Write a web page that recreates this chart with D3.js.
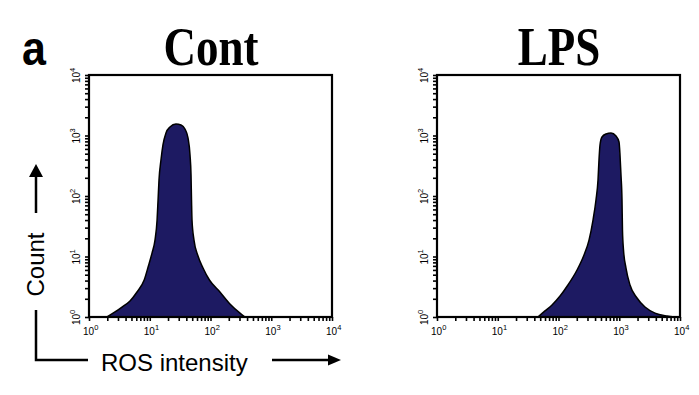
<!DOCTYPE html>
<html>
<head>
  <meta charset="UTF-8">
  <style>
    body { margin: 0; background: white; }
    svg { display: block; }
    .tick-label { font-family: "Liberation Sans", Arial, sans-serif; font-size: 10px; fill: black; }
    .title { font-family: "Liberation Serif", "Times New Roman", serif; font-weight: bold; font-size: 45px; }
  </style>
</head>
<body>
<svg></svg>
<script src="https://cdn.jsdelivr.net/npm/d3@7"></script>
<script>
let width = 699, height = 395;

// Histogram data (ROS intensity vs event count)
let contIntensity = [1.98, 2.68, 3.49, 4.73, 6.17, 8.1, 9.5, 10.9, 12.2, 13.2, 13.7, 14.2, 15.3, 16.5, 18.5, 21.5, 27.0,
                     32.7, 38.0, 42.6, 46.0, 47.8, 48.7, 49.6, 53.5, 62.3, 75.3, 96, 143, 209, 306, 370];
let contCount     = [1.0, 1.21, 1.46, 1.84, 2.59, 4.09, 6.97, 11.4, 18.7, 40.1, 85.9, 184, 394, 697, 1100, 1380, 1550,
                     1490, 1280, 910, 476, 222, 85.9, 40.1, 18.7, 10.2, 6.45, 4.09, 2.59, 1.64, 1.16, 1.0];

let lpsIntensity = [46.0, 59.9, 78.2, 106, 143, 202, 263, 318, 370, 414, 447, 464, 482, 520, 605, 732, 885,
                    991, 1029, 1068, 1110, 1130, 1175, 1291, 1503, 1960, 2653, 3875, 6110, 8270];
let lpsCount     = [1.0, 1.26, 1.58, 2.22, 3.38, 5.98, 10.6, 18.7, 40.1, 85.9, 184, 394, 697, 944, 1059, 1100, 981,
                    782, 476, 222, 85.9, 27.4, 12.8, 6.45, 3.38, 2.06, 1.46, 1.16, 1.04, 1.0];

let panelTitles = ["Cont", "LPS"];
let decades = [1, 10, 100, 1000, 10000];
let exponents = ["0", "1", "2", "3", "4"];

let svg = d3.select("svg")
    .attr("width", width)
    .attr("height", height);

// all log ticks (minor + major)
let allTicks = [];
for (let d = 0; d < 4; d++) {
  for (let m = 1; m < 10; m++) allTicks.push(m * Math.pow(10, d));
}
allTicks.push(10000);

let y = d3.scaleLog().domain([1, 10000]).range([317, 75]);

function drawPanel(x0, title, xs, ys) {
  let x = d3.scaleLog().domain([1, 10000]).range([x0, x0 + 243]);
  let g = svg.append("g");

  let pts = xs.map((v, i) => [v, ys[i]]);
  let area = d3.area()
      .x(d => x(d[0]))
      .y0(y(1))
      .y1(d => y(d[1]))
      .curve(d3.curveMonotoneX);
  let line = d3.line()
      .x(d => x(d[0]))
      .y(d => y(d[1]))
      .curve(d3.curveMonotoneX);

  g.append("path")
      .attr("d", area(pts))
      .attr("fill", "#1d1a62");
  g.append("path")
      .attr("d", line(pts))
      .attr("fill", "none")
      .attr("stroke", "black")
      .attr("stroke-width", 1.5);

  // ticks
  let yAxis = d3.axisLeft(y).tickValues(allTicks).tickFormat("").tickSize(4).tickSizeOuter(0);
  let xAxis = d3.axisBottom(x).tickValues(allTicks).tickFormat("").tickSize(4).tickSizeOuter(0);
  let ya = g.append("g").attr("transform", `translate(${x0},0)`).call(yAxis);
  let xa = g.append("g").attr("transform", `translate(0,${y(1)})`).call(xAxis);
  [ya, xa].forEach(a => {
    a.select(".domain").remove();
    a.selectAll("line").attr("stroke", "black").attr("stroke-width", 1.6);
  });

  // frame
  g.append("rect")
      .attr("x", x0)
      .attr("y", y(10000))
      .attr("width", 243)
      .attr("height", y(1) - y(10000))
      .attr("fill", "none")
      .attr("stroke", "black")
      .attr("stroke-width", 2.2);

  // x tick labels
  decades.forEach((d, i) => {
    let t = g.append("text").attr("class", "tick-label")
        .attr("x", x(d) - 6)
        .attr("y", 335);
    t.append("tspan").text("10");
    t.append("tspan").attr("dy", -5).attr("font-size", "7.5px").text(exponents[i]);
  });

  // y tick labels (rotated)
  decades.forEach((d, i) => {
    let t = g.append("text").attr("class", "tick-label")
        .attr("transform", `translate(${x0 - 9},${y(d) + 8}) rotate(-90)`)
        .attr("text-anchor", "start");
    t.append("tspan").text("10");
    t.append("tspan").attr("dy", -5).attr("font-size", "7.5px").text(exponents[i]);
  });

  // title
  svg.append("text")
      .attr("class", "title")
      .attr("text-anchor", "middle")
      .attr("transform", `translate(${x0 + 122},65) scale(1,1.22)`)
      .text(title);
}

drawPanel(89, panelTitles[0], contIntensity, contCount);
drawPanel(437, panelTitles[1], lpsIntensity, lpsCount);

// panel letter
svg.append("text")
    .attr("transform", "translate(22,65) scale(1,1.12)")
    .style("font-family", "Liberation Sans, Arial, sans-serif")
    .style("font-weight", "bold")
    .style("font-size", "43px")
    .text("a");

// axis annotation: Count (up arrow) and ROS intensity (right arrow)
let ann = svg.append("g")
    .attr("stroke", "black")
    .attr("stroke-width", 2.5)
    .attr("fill", "none");
ann.append("path").attr("d", "M36,310 V360 H88");
ann.append("path").attr("d", "M36,213 V175");
ann.append("path").attr("d", "M272,360 H330");
svg.append("path").attr("d", "M36,164 L29,177 L43,177 Z").attr("fill", "black");
svg.append("path").attr("d", "M341,360 L328,354.5 L328,365.5 Z").attr("fill", "black");

svg.append("text")
    .attr("transform", "translate(44,264.5) rotate(-90)")
    .attr("text-anchor", "middle")
    .style("font-family", "Liberation Sans, Arial, sans-serif")
    .style("font-size", "24px")
    .text("Count");

svg.append("text")
    .attr("x", 101)
    .attr("y", 371)
    .style("font-family", "Liberation Sans, Arial, sans-serif")
    .style("font-size", "24px")
    .text("ROS intensity");
</script>
</body>
</html>
